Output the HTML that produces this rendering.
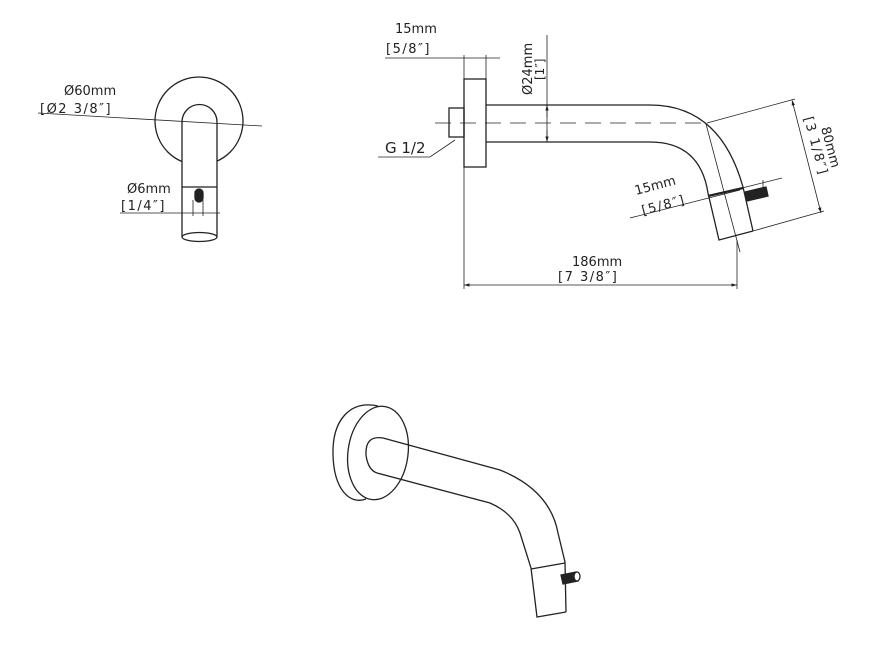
<!DOCTYPE html>
<html><head><style>
html,body{margin:0;padding:0;background:#fff;}
svg{display:block;}
text{font-family:"DejaVu Sans","Liberation Sans",sans-serif;fill:#222;}
</style></head><body>
<svg width="876" height="651" viewBox="0 0 876 651" xmlns="http://www.w3.org/2000/svg">
<defs>
<marker id="ar" viewBox="0 0 10 10" refX="10" refY="5" markerWidth="7" markerHeight="7" orient="auto-start-reverse"><path d="M0,2 L10,5 L0,8 z" fill="#222"/></marker>
</defs>
<g fill="none" stroke="#222" stroke-width="1.3">
<!-- Front view -->
<circle cx="199" cy="121" r="44"/>
<path d="M182,237 L182,122 A17.5,17.5 0 0,1 217,122 L217,237 Z" fill="#fff" stroke="none"/>
<path d="M182,237 L182,122 A17.5,17.5 0 0,1 217,122 L217,237"/>
<line x1="182" y1="187" x2="217" y2="187"/>
<ellipse cx="199.5" cy="237" rx="17.5" ry="4.5" fill="#fff"/>
<rect x="195" y="189" width="8" height="13" rx="4" fill="#222"/>
<line x1="38" y1="113" x2="262" y2="126" stroke-width="0.8"/>
<line x1="120" y1="213" x2="220" y2="213" stroke-width="0.8"/>
<line x1="193" y1="200" x2="193" y2="216" stroke-width="0.8"/>
<line x1="203" y1="200" x2="203" y2="216" stroke-width="0.8"/>
</g>
<text x="64" y="95" font-size="13">Ø60mm</text>
<text x="40" y="113" font-size="13" letter-spacing="1.5">[Ø2 3/8″]</text>
<text x="127" y="193" font-size="13">Ø6mm</text>
<text x="121" y="210" font-size="13" letter-spacing="1.5">[1/4″]</text>

<!-- Side view -->
<g fill="none" stroke="#222" stroke-width="1.3">
<rect x="464" y="79" width="22" height="88"/>
<rect x="449" y="108" width="15" height="29"/>
<path d="M486,105 L650,105 Q720,105 743,187 L753,231"/>
<path d="M486,142 L650,142 Q700,142 708,193 L719,240 L753,231"/>
<line x1="708" y1="196" x2="743" y2="188" stroke-width="2.2"/>
<path d="M745,192 L766,187 L768,196 L747,201 z" fill="#222"/>
<line x1="435" y1="123" x2="705" y2="123" stroke-dasharray="16,9" stroke-width="0.8"/>
<line x1="706" y1="124" x2="740" y2="252" stroke-width="0.8"/>
<g stroke-width="0.8">
<line x1="385" y1="58" x2="500" y2="58"/>
<line x1="464" y1="55" x2="464" y2="79"/>
<line x1="486" y1="55" x2="486" y2="79"/>
<line x1="547" y1="35" x2="547" y2="142"/>
<line x1="547" y1="117" x2="547" y2="105" marker-end="url(#ar)"/>
<line x1="547" y1="130" x2="547" y2="142" marker-end="url(#ar)"/>
<line x1="707" y1="123" x2="795" y2="99"/>
<line x1="753" y1="231" x2="824" y2="211"/>
<line x1="792" y1="100" x2="821" y2="213" marker-start="url(#ar)" marker-end="url(#ar)"/>
<line x1="630" y1="218" x2="740" y2="190"/>
<line x1="742" y1="188" x2="782" y2="178"/>
<line x1="763" y1="180" x2="763" y2="190"/>
<line x1="464" y1="167" x2="464" y2="289"/>
<line x1="737" y1="240" x2="737" y2="289"/>
<line x1="464" y1="285" x2="737" y2="285" marker-start="url(#ar)" marker-end="url(#ar)"/>
<polyline points="378,157 430,157 455,140"/>
</g>
</g>
<text x="395" y="33" font-size="13">15mm</text>
<text x="386" y="53" font-size="13" letter-spacing="1.5">[5/8″]</text>
<text transform="translate(532,95) rotate(-90)" font-size="13">Ø24mm</text>
<text transform="translate(544,80) rotate(-90)" font-size="12">[1″]</text>
<text transform="translate(821,128) rotate(75)" font-size="13">80mm</text>
<text transform="translate(804,118) rotate(75)" font-size="13" letter-spacing="1.5">[3 1/8″]</text>
<text transform="translate(636,195) rotate(-15)" font-size="13">15mm</text>
<text transform="translate(643,215) rotate(-15)" font-size="13" letter-spacing="1.5">[5/8″]</text>
<text x="572" y="266" font-size="13">186mm</text>
<text x="558" y="281" font-size="13" letter-spacing="1.5">[7 3/8″]</text>
<text x="385" y="153" font-size="15" font-family="Liberation Sans">G 1/2</text>

<!-- Iso view -->
<g fill="none" stroke="#222" stroke-width="1.3">
<path d="M378,406 C350,400 332,420 333,455 C334,490 350,505 366,499"/>
<ellipse cx="378" cy="453" rx="30" ry="47" transform="rotate(8 378 453)" fill="#fff"/>
<path d="M383,438 L500,470 Q550,490 558,533 L565,562 L566,612"/>
<path d="M377,473 L490,503 Q513,513 520,533 L531,568 L537,617 L566,612"/>
<path d="M383,438 Q365,435 366,455 Q368,470 377,473"/>
<line x1="531" y1="569" x2="565" y2="563"/>
<path d="M561,575 L576,572 L578,581 L563,584 z" fill="#222"/>
<ellipse cx="577" cy="576.5" rx="3" ry="4.5" fill="#fff"/>
</g>
</svg>
</body></html>
